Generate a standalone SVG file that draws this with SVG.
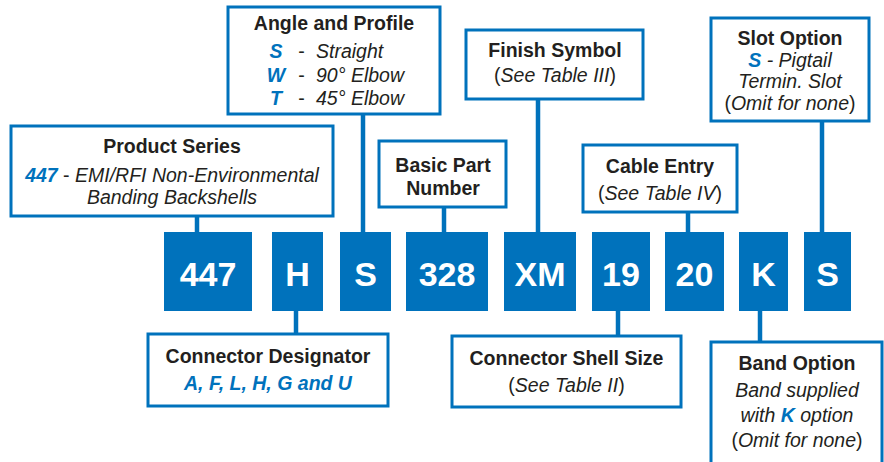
<svg xmlns="http://www.w3.org/2000/svg" width="884" height="462" viewBox="0 0 884 462">
<style>
.lbl{fill:#fff;stroke:#0072BC;stroke-width:3}
.code{fill:#0072BC}
.ct{font-family:"Liberation Sans",Arial,sans-serif;font-weight:bold;font-size:34px;fill:#fff;text-anchor:middle}
.t{font-family:"Liberation Sans",Arial,sans-serif;font-size:19.5px;fill:#231F20;text-anchor:middle}
.s{text-anchor:start}
.b{font-weight:bold}
.i{font-style:italic}
.bl{fill:#0072BC;font-weight:bold;font-style:italic}
.conn line{stroke:#0072BC;stroke-width:4.5}
</style>
<rect width="884" height="462" fill="#fff"/>
<g class="conn">
<line x1="197" y1="217" x2="197" y2="233"/>
<line x1="363" y1="115" x2="363" y2="233"/>
<line x1="444" y1="208" x2="444" y2="233"/>
<line x1="538" y1="100" x2="538" y2="233"/>
<line x1="688" y1="213" x2="688" y2="233"/>
<line x1="822" y1="122" x2="822" y2="233"/>
<line x1="296" y1="310" x2="296" y2="333"/>
<line x1="618" y1="310" x2="618" y2="335"/>
<line x1="760" y1="310" x2="760" y2="341"/>
</g>
<g id="code-447"><rect class="code" x="164" y="232" width="88" height="79"/><text class="ct" x="208" y="286">447</text></g>
<g id="code-H"><rect class="code" x="272" y="232" width="51" height="79"/><text class="ct" x="297.5" y="286">H</text></g>
<g id="code-S1"><rect class="code" x="340" y="232" width="51" height="79"/><text class="ct" x="365.5" y="286">S</text></g>
<g id="code-328"><rect class="code" x="406" y="232" width="82" height="79"/><text class="ct" x="447" y="286">328</text></g>
<g id="code-XM"><rect class="code" x="504" y="232" width="72" height="79"/><text class="ct" x="540" y="286">XM</text></g>
<g id="code-19"><rect class="code" x="592" y="232" width="58" height="79"/><text class="ct" x="621" y="286">19</text></g>
<g id="code-20"><rect class="code" x="665" y="232" width="59" height="79"/><text class="ct" x="694.5" y="286">20</text></g>
<g id="code-K"><rect class="code" x="739" y="232" width="49" height="79"/><text class="ct" x="763.5" y="286">K</text></g>
<g id="code-S2"><rect class="code" x="804" y="232" width="47" height="79"/><text class="ct" x="827.5" y="286">S</text></g>

<g id="product-series">
<rect class="lbl" x="11" y="126" width="322" height="90"/>
<text class="t b" x="172" y="153">Product Series</text>
<text class="t i" x="172" y="182"><tspan class="bl">447</tspan><tspan font-style="normal"> - </tspan>EMI/RFI Non-Environmental</text>
<text class="t i" x="172" y="204">Banding Backshells</text>
</g>
<g id="angle-profile">
<rect class="lbl" x="228" y="7" width="212" height="107"/>
<text class="t b" x="334" y="30">Angle and Profile</text>
<text class="t bl" x="276" y="58">S</text><text class="t" x="301.5" y="58">-</text><text class="t i s" x="316" y="58">Straight</text>
<text class="t bl" x="276" y="82">W</text><text class="t" x="301.5" y="82">-</text><text class="t i s" x="316" y="82">90° Elbow</text>
<text class="t bl" x="276" y="105">T</text><text class="t" x="301.5" y="105">-</text><text class="t i s" x="316" y="105">45° Elbow</text>
</g>
<g id="basic-part">
<rect class="lbl" x="379" y="141" width="127" height="66"/>
<text class="t b" x="443" y="172">Basic Part</text>
<text class="t b" x="443" y="195">Number</text>
</g>
<g id="finish-symbol">
<rect class="lbl" x="466" y="30" width="177" height="69"/>
<text class="t b" x="555" y="57">Finish Symbol</text>
<text class="t" x="555" y="82">(<tspan class="i">See Table III</tspan>)</text>
</g>
<g id="cable-entry">
<rect class="lbl" x="583" y="145" width="154" height="67"/>
<text class="t b" x="660" y="173">Cable Entry</text>
<text class="t" x="660" y="200">(<tspan class="i">See Table IV</tspan>)</text>
</g>
<g id="slot-option">
<rect class="lbl" x="711" y="18" width="158" height="103"/>
<text class="t b" x="790" y="45">Slot Option</text>
<text class="t i" x="790" y="67"><tspan class="bl">S</tspan> - Pigtail</text>
<text class="t i" x="790" y="88">Termin. Slot</text>
<text class="t" x="790" y="110">(<tspan class="i">Omit for none</tspan>)</text>
</g>
<g id="connector-designator">
<rect class="lbl" x="148" y="334" width="240" height="72"/>
<text class="t b" x="268" y="363">Connector Designator</text>
<text class="t bl" x="268" y="390">A, F, L, H, G and U</text>
</g>
<g id="shell-size">
<rect class="lbl" x="452" y="336" width="229" height="71"/>
<text class="t b" x="566.5" y="365">Connector Shell Size</text>
<text class="t" x="566.5" y="392">(<tspan class="i">See Table II</tspan>)</text>
</g>
<g id="band-option">
<rect class="lbl" x="711" y="342" width="171" height="130"/>
<text class="t b" x="797" y="370">Band Option</text>
<text class="t i" x="797" y="397">Band supplied</text>
<text class="t i" x="797" y="422">with <tspan class="bl">K</tspan> option</text>
<text class="t" x="797" y="447">(<tspan class="i">Omit for none</tspan>)</text>
</g>
</svg>
